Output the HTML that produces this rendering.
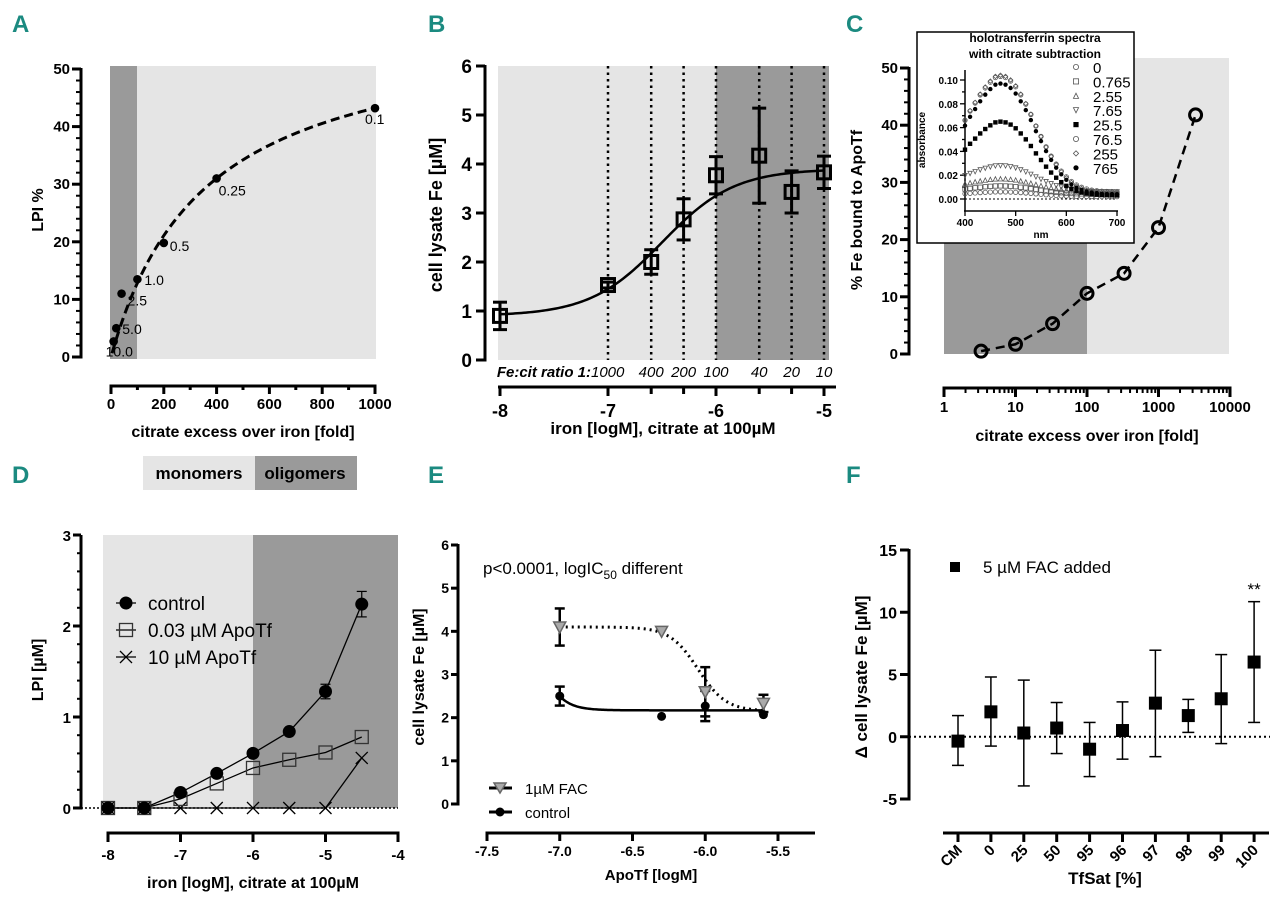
<!DOCTYPE html>
<html><head><meta charset="utf-8"><style>
html,body{margin:0;padding:0;background:#fff}
svg{display:block;font-family:"Liberation Sans",sans-serif}
</style></head><body>
<svg id="fig" width="1280" height="907" viewBox="0 0 1280 907" xmlns="http://www.w3.org/2000/svg"></svg>
<script>
// ---------- DATA ----------
// Panel A
const aCitrate=[10,20,40,100,200,400,1000];
const aLPI=[2.7,5,11,13.5,19.8,31,43.2];
const aLabels=["10.0","5.0","2.5","1.0","0.5","0.25","0.1"];
const aFit=[58.6,356]; // Vmax, K
const aXTicks=[0,200,400,600,800,1000];
const aYTicks=[0,10,20,30,40,50];
// Panel B
const bIron=[-8,-7,-6.6,-6.3,-6,-5.6,-5.3,-5];
const bFe=[0.9,1.53,2.0,2.87,3.77,4.17,3.43,3.83];
const bErr=[0.28,0.06,0.25,0.42,0.38,0.97,0.43,0.33];
const bRatioLabels=["1000","400","200","100","40","20","10"];
const bRatioIron=[-7,-6.6,-6.3,-6,-5.6,-5.3,-5];
const bFit=[0.9,3.9,-6.5,1.3]; // bottom, top, logEC50, hill
const bXTicks=[-8,-7,-6,-5];
const bYTicks=[0,1,2,3,4,5,6];
// Panel C
const cCitrate=[3.3,10,33,100,330,1000,3300];
const cBound=[0.5,1.7,5.3,10.6,14.1,22.1,41.8];
const cXTicks=[1,10,100,1000,10000];
const cYTicks=[0,10,20,30,40,50];
// Panel C inset
const insLegend=["0","0.765","2.55","7.65","25.5","76.5","255","765"];
const insPeak=[0.004,0.007,0.011,0.022,0.062,0.097,0.099,0.093];
const insBase=[0.002,0.004,0.006,0.006,0.003,0.006,0.005,0.004];
const insWl=[400,410,420,430,440,450,460,470,480,490,500,510,520,530,540,550,560,570,580,590,600,610,620,630,640,650,660,670,680,690,700];
const insShape=[0.62,0.70,0.77,0.84,0.90,0.95,0.99,1.0,0.99,0.96,0.91,0.84,0.76,0.67,0.57,0.48,0.39,0.31,0.24,0.18,0.13,0.09,0.06,0.04,0.025,0.015,0.01,0.005,0.003,0.002,0.0];
const insMarkers=["circle","square","tri","tridown","fsquare","circle","diamond","fcircle"];
const insXTicks=[400,500,600,700];
const insYTicks=[0,0.02,0.04,0.06,0.08,0.10];
// Panel D
const dIron=[-8,-7.5,-7,-6.5,-6,-5.5,-5,-4.5];
const dControl=[0,0,0.17,0.38,0.6,0.84,1.28,2.24];
const dControlErr=[0,0,0,0,0,0,0.08,0.14];
const dApo003=[0,0,0.1,0.27,0.44,0.53,0.61,0.78];
const dApo10=[0,0,0,0,0,0,0,0.55];
const dXTicks=[-8,-7,-6,-5,-4];
const dYTicks=[0,1,2,3];
// Panel E
const eApo=[-7,-6.3,-6,-5.6];
const eFAC=[4.1,4.0,2.6,2.33];
const eFACErr=[0.43,0,0.57,0.2];
const eCtrl=[2.5,2.03,2.27,2.07];
const eCtrlErr=[0.22,0,0.35,0];
const eFACFit=[4.1,2.15,-6.05,-4.5];
const eCtrlFit=[2.5,2.17,-7.0,2.2];
const eXTicks=[-7.5,-7.0,-6.5,-6.0,-5.5];
const eYTicks=[0,1,2,3,4,5,6];
// Panel F
const fCats=["CM","0","25","50","95","96","97","98","99","100"];
const fMean=[-0.35,2.0,0.3,0.7,-1.0,0.5,2.7,1.7,3.05,6.0];
const fLow=[-2.3,-0.75,-3.95,-1.35,-3.2,-1.8,-1.6,0.35,-0.55,1.15];
const fHigh=[1.7,4.8,4.55,2.75,1.15,2.8,6.95,3.0,6.6,10.85];
const fYTicks=[-5,0,5,10,15];

// ---------- HELPERS ----------
const NS="http://www.w3.org/2000/svg";
const svg=document.getElementById('fig');
function mk(tag,attrs,name,parent){
  const el=document.createElementNS(NS,tag);
  for(const k in attrs) el.setAttribute(k,attrs[k]);
  
  
  (parent||svg).appendChild(el);
  return el;
}
function txt(x,y,s,attrs,name,parent){
  const a=Object.assign({x:x,y:y},attrs||{});
  const t=mk('text',a,name,parent); t.textContent=s; return t;
}
function lin(d0,d1,r0,r1){return v=>r0+(v-d0)*(r1-r0)/(d1-d0);}
function line(x1,y1,x2,y2,attrs,name,g){return mk('line',Object.assign({x1,y1,x2,y2,stroke:'#000'},attrs||{}),name,g);}
function errbar(g,x,y1,y2,cap,sw,name){
  line(x,y1,x,y2,{'stroke-width':sw},name,g);
  line(x-cap/2,y1,x+cap/2,y1,{'stroke-width':sw},name+'-cap',g);
  line(x-cap/2,y2,x+cap/2,y2,{'stroke-width':sw},name+'-cap',g);
}
const teal='#1b8a80';
function letter(x,y,s){txt(x,y,s,{'font-size':24,'font-weight':'bold',fill:teal,'font-family':'"Liberation Sans Narrow","Liberation Sans",sans-serif'},'panel-label-'+s.toLowerCase());}
function ytitle(x,y,s,size,name){txt(0,0,s,{'font-size':size,'font-weight':'bold','text-anchor':'middle',transform:'translate('+x+','+y+') rotate(-90)'},name);}
letter(12,32,'A');letter(428,32,'B');letter(846,32,'C');
letter(12,483,'D');letter(428,483,'E');letter(846,483,'F');

// ---------- PANEL A ----------
(function(){
  const g=mk('g',{},'panel-a');
  const x=lin(0,1000,111,375), y=lin(0,50,357,69);
  mk('rect',{x:110,y:66,width:266,height:293,fill:'#e5e5e5'},'monomer-region',g);
  mk('rect',{x:110,y:66,width:27,height:293,fill:'#9a9a9a'},'oligomer-region',g);
  line(81,y(50)-1,81,y(0)+1.5,{'stroke-width':3},'y-axis',g);
  for(let v=0;v<=50;v+=2){const maj=v%10===0;line(maj?72:76,y(v),81,y(v),{'stroke-width':maj?3:2},'y-tick',g);}
  aYTicks.forEach(v=>txt(70,y(v)+5,String(v),{'font-size':15,'font-weight':'bold','text-anchor':'end'},'y-tick-label',g));
  line(109.5,386,376.5,386,{'stroke-width':3},'x-axis',g);
  for(let v=0;v<=1000;v+=100){const maj=v%200===0;line(x(v),386,x(v),maj?394:390,{'stroke-width':3},'x-tick',g);}
  aXTicks.forEach(v=>txt(x(v),409,String(v),{'font-size':15,'font-weight':'bold','text-anchor':'middle'},'x-tick-label',g));
  txt(243,437,'citrate excess over iron [fold]',{'font-size':16,'font-weight':'bold','text-anchor':'middle'},'x-axis-title',g);
  ytitle(43,210,'LPI %',16,'y-axis-title');
  let d='';
  for(let c=4;c<=1000;c+=(c<100?2:10)){const f=aFit[0]*c/(aFit[1]+c);d+=(d?'L':'M')+x(c)+','+y(f);}
  mk('path',{d:d,fill:'none',stroke:'#000','stroke-width':3,'stroke-dasharray':'9 5'},'fit-curve',g);
  const pts=aCitrate.map((c,i)=>[x(c),y(aLPI[i])]);
  const off=[[-8,15],[6,6],[6,12],[7,6],[6,8],[2,17],[-10,16]];
  pts.forEach((p,i)=>{
    mk('circle',{cx:p[0],cy:p[1],r:4.3,fill:'#000'},'data-point',g);
    txt(p[0]+off[i][0],p[1]+off[i][1],aLabels[i],{'font-size':14},'point-label',g);
  });
})();

// ---------- PANEL B ----------
(function(){
  const g=mk('g',{},'panel-b');
  const x=lin(-8,-5,500,824), y=lin(0,6,360,66);
  mk('rect',{x:498,y:66,width:331,height:294,fill:'#e5e5e5'},'monomer-region',g);
  mk('rect',{x:x(-6),y:66,width:829-x(-6),height:294,fill:'#9a9a9a'},'oligomer-region',g);
  bRatioIron.forEach(v=>line(x(v),66,x(v),360,{'stroke-width':2.5,'stroke-dasharray':'2.5 4'},'ratio-gridline',g));
  line(485,y(6)-1,485,y(0)+1.5,{'stroke-width':3},'y-axis',g);
  bYTicks.forEach(v=>{line(476,y(v),485,y(v),{'stroke-width':3},'y-tick',g);
    txt(472,y(v)+7,String(v),{'font-size':19,'font-weight':'bold','text-anchor':'end'},'y-tick-label',g);});
  ytitle(442,215,'cell lysate Fe [\u00b5M]',18,'y-axis-title');
  line(498,387,836,387,{'stroke-width':3},'x-axis',g);
  bXTicks.forEach(v=>{line(x(v),387,x(v),396,{'stroke-width':3},'x-tick',g);
    txt(x(v),417,String(v),{'font-size':18,'font-weight':'bold','text-anchor':'middle'},'x-tick-label',g);});
  bRatioIron.forEach(v=>{if(bXTicks.indexOf(v)<0)line(x(v),387,x(v),394,{'stroke-width':3},'x-minor-tick',g);});
  txt(591,377,'Fe:cit ratio 1:',{'font-size':15,'font-weight':'bold','font-style':'italic','text-anchor':'end'},'ratio-label-prefix',g);
  bRatioLabels.forEach((s,i)=>{const xx=x(bRatioIron[i]);const ax=i===0?'start':'middle';
    txt(i===0?591:xx,377,s,{'font-size':15,'font-style':'italic','text-anchor':ax},'ratio-label',g);});
  txt(663,434,'iron [logM], citrate at 100\u00b5M',{'font-size':17,'font-weight':'bold','text-anchor':'middle'},'x-axis-title',g);
  let d='';
  for(let v=-8;v<=-5.0001+0.02;v+=0.02){const f=bFit[0]+(bFit[1]-bFit[0])/(1+Math.pow(10,(bFit[2]-v)*bFit[3]));d+=(d?'L':'M')+x(v)+','+y(f);}
  mk('path',{d:d,fill:'none',stroke:'#000','stroke-width':2.5},'fit-curve',g);
  bIron.forEach((v,i)=>{
    errbar(g,x(v),y(bFe[i]+bErr[i]),y(bFe[i]-bErr[i]),14,3,'error-bar');
    mk('rect',{x:x(v)-6.5,y:y(bFe[i])-6.5,width:13,height:13,fill:'none',stroke:'#000','stroke-width':3},'data-point',g);
  });
})();

// ---------- PANEL C ----------
(function(){
  const g=mk('g',{},'panel-c');
  const x=v=>944+71.5*Math.log10(v), y=lin(0,50,354,68);
  mk('rect',{x:944,y:58,width:285,height:296,fill:'#e5e5e5'},'monomer-region',g);
  mk('rect',{x:944,y:58,width:x(100)-944,height:296,fill:'#9a9a9a'},'oligomer-region',g);
  line(909,y(50)-1,909,y(0)+1.5,{'stroke-width':3},'y-axis',g);
  for(let v=0;v<=50;v+=2){const maj=v%10===0;line(maj?900:904,y(v),909,y(v),{'stroke-width':maj?3:2},'y-tick',g);}
  cYTicks.forEach(v=>txt(898,y(v)+5,String(v),{'font-size':15,'font-weight':'bold','text-anchor':'end'},'y-tick-label',g));
  ytitle(862,210,'% Fe bound to ApoTf',16,'y-axis-title');
  line(942.5,388,1231.5,388,{'stroke-width':3},'x-axis',g);
  for(let dcd=1;dcd<=10000;dcd*=10){line(x(dcd),388,x(dcd),397,{'stroke-width':3},'x-tick',g);
    if(dcd<10000)for(let m=2;m<10;m++)line(x(dcd*m),388,x(dcd*m),393,{'stroke-width':2},'x-minor-tick',g);}
  cXTicks.forEach(v=>txt(x(v),412,String(v),{'font-size':15,'font-weight':'bold','text-anchor':'middle'},'x-tick-label',g));
  txt(1087,441,'citrate excess over iron [fold]',{'font-size':16,'font-weight':'bold','text-anchor':'middle'},'x-axis-title',g);
  const pts=cCitrate.map((c,i)=>[x(c),y(cBound[i])]);
  mk('polyline',{points:pts.map(p=>p.join(',')).join(' '),fill:'none',stroke:'#000','stroke-width':2.5,'stroke-dasharray':'9 6'},'data-line',g);
  pts.forEach(p=>mk('circle',{cx:p[0],cy:p[1],r:6,fill:'none',stroke:'#000','stroke-width':3},'data-point',g));

  const ig=mk('g',{},'inset-spectra',g);
  mk('rect',{x:917,y:32,width:217,height:211,fill:'#fff',stroke:'#000','stroke-width':1.5},'inset-frame',ig);
  txt(1035,42,'holotransferrin spectra',{'font-size':12,'font-weight':'bold','text-anchor':'middle'},'inset-title',ig);
  txt(1035,58,'with citrate subtraction',{'font-size':12,'font-weight':'bold','text-anchor':'middle'},'inset-title',ig);
  const xi=lin(400,700,965,1117), yi=lin(0,0.1,199,80);
  line(965,199,1117,199,{'stroke-width':1,'stroke-dasharray':'2 2'},'zero-line',ig);
  line(965,70,965,211,{'stroke-width':1.5},'inset-y-axis',ig);
  for(let v=0;v<=0.1001;v+=0.01){const maj=Math.round(v*100)%2===0;line(maj?960:962,yi(v),965,yi(v),{'stroke-width':1.3},'inset-y-tick',ig);}
  insYTicks.forEach(v=>txt(958,yi(v)+4,v.toFixed(2),{'font-size':10,'font-weight':'bold','text-anchor':'end'},'inset-y-tick-label',ig));
  txt(0,0,'absorbance',{'font-size':10,'font-weight':'bold','text-anchor':'middle',transform:'translate(925,140) rotate(-90)'},'inset-y-title',ig);
  line(964,211,1118,211,{'stroke-width':1.5},'inset-x-axis',ig);
  insXTicks.forEach(v=>{line(xi(v),211,xi(v),216,{'stroke-width':1.3},'inset-x-tick',ig);
    txt(xi(v),226,String(v),{'font-size':10,'font-weight':'bold','text-anchor':'middle'},'inset-x-tick-label',ig);});
  txt(1041,238,'nm',{'font-size':10,'font-weight':'bold','text-anchor':'middle'},'inset-x-title',ig);
  function marker(type,cx,cy,s,par,name){
    const filled=type[0]==='f';
    const st={fill:filled?'#000':'none',stroke:filled?'none':'#555','stroke-width':0.8};
    if(type==='circle'||type==='fcircle')return mk('circle',Object.assign({cx,cy,r:s},st),name,par);
    if(type==='square'||type==='fsquare')return mk('rect',Object.assign({x:cx-s,y:cy-s,width:2*s,height:2*s},st),name,par);
    if(type==='tri')return mk('polygon',Object.assign({points:[cx,cy-s,cx+s,cy+s,cx-s,cy+s].join(' ')},st),name,par);
    if(type==='tridown')return mk('polygon',Object.assign({points:[cx-s,cy-s,cx+s,cy-s,cx,cy+s].join(' ')},st),name,par);
    return mk('polygon',Object.assign({points:[cx,cy-s,cx+s,cy,cx,cy+s,cx-s,cy].join(' ')},st),name,par);
  }
  insPeak.forEach((pk,si)=>{
    insWl.forEach((w,wi)=>marker(insMarkers[si],xi(w),yi(insBase[si]+pk*insShape[wi]),2.2,ig,'spectrum-point'));
    marker(insMarkers[si],1076,67+si*14.4,2.6,ig,'inset-legend-marker');
    txt(1093,73+si*14.4,insLegend[si],{'font-size':15},'inset-legend-label',ig);
  });
})();

// ---------- MONOMER/OLIGOMER LEGEND ----------
mk('rect',{x:143,y:456,width:112,height:34,fill:'#e5e5e5'},'monomers-legend-box');
mk('rect',{x:255,y:456,width:102,height:34,fill:'#9a9a9a'},'oligomers-legend-box');
txt(199,479,'monomers',{'font-size':17,'font-weight':'bold','text-anchor':'middle'},'monomers-legend-label');
txt(305,479,'oligomers',{'font-size':17,'font-weight':'bold','text-anchor':'middle'},'oligomers-legend-label');

// ---------- PANEL D ----------
(function(){
  const g=mk('g',{},'panel-d');
  const x=lin(-8,-4,108,398), y=lin(0,3,808,535);
  mk('rect',{x:103,y:535,width:295,height:273,fill:'#e5e5e5'},'monomer-region',g);
  mk('rect',{x:x(-6),y:535,width:398-x(-6),height:273,fill:'#9a9a9a'},'oligomer-region',g);
  line(81,535,81,809.5,{'stroke-width':3},'y-axis',g);
  for(let i=0;i<=15;i++){const v=i*0.2;const maj=i%5===0;line(maj?73:77,y(v),81,y(v),{'stroke-width':maj?3:2},'y-tick',g);}
  dYTicks.forEach(v=>txt(71,y(v)+6,String(v),{'font-size':15,'font-weight':'bold','text-anchor':'end'},'y-tick-label',g));
  ytitle(43,670,'LPI [\u00b5M]',16,'y-axis-title');
  line(81,808,398,808,{'stroke-width':1.5,'stroke-dasharray':'2 2'},'zero-line',g);
  line(106.5,833,399.5,833,{'stroke-width':3},'x-axis',g);
  dXTicks.forEach(v=>{line(x(v),833,x(v),842,{'stroke-width':3},'x-tick',g);
    txt(x(v),860,String(v),{'font-size':15,'font-weight':'bold','text-anchor':'middle'},'x-tick-label',g);});
  txt(253,888,'iron [logM], citrate at 100\u00b5M',{'font-size':16,'font-weight':'bold','text-anchor':'middle'},'x-axis-title',g);
  function pl(vals,name){mk('polyline',{points:dIron.map((v,i)=>x(v)+','+y(vals[i])).join(' '),fill:'none',stroke:'#000','stroke-width':1.3},name,g);}
  pl(dApo10,'apotf-10-line');pl(dApo003,'apotf-003-line');pl(dControl,'control-line');
  dIron.forEach((v,i)=>{const cx=x(v),cy=y(dApo10[i]);
    line(cx-6,cy-6,cx+6,cy+6,{'stroke-width':1.3},'apotf-10-point',g);line(cx-6,cy+6,cx+6,cy-6,{'stroke-width':1.3},'apotf-10-point',g);});
  dIron.forEach((v,i)=>mk('rect',{x:x(v)-6.5,y:y(dApo003[i])-6.5,width:13,height:13,fill:'none',stroke:'#333','stroke-width':1.3},'apotf-003-point',g));
  dIron.forEach((v,i)=>{if(dControlErr[i]>0)errbar(g,x(v),y(dControl[i]+dControlErr[i]),y(dControl[i]-dControlErr[i]),10,1.2,'control-error-bar');
    mk('circle',{cx:x(v),cy:y(dControl[i]),r:6.5,fill:'#000'},'control-point',g);});
  const lg=[['control','c'],['0.03 \u00b5M ApoTf','s'],['10 \u00b5M ApoTf','x']];
  lg.forEach((e,i)=>{const ly=603+i*27;
    line(116,ly,136,ly,{'stroke-width':1.3},'legend-line',g);
    if(e[1]==='c')mk('circle',{cx:126,cy:ly,r:6.5,fill:'#000'},'legend-marker-control',g);
    if(e[1]==='s')mk('rect',{x:119.5,y:ly-6.5,width:13,height:13,fill:'none',stroke:'#333','stroke-width':1.3},'legend-marker-apotf-003',g);
    if(e[1]==='x'){line(120,ly-6,132,ly+6,{'stroke-width':1.3},'legend-marker-apotf-10',g);line(120,ly+6,132,ly-6,{'stroke-width':1.3},'legend-marker-apotf-10',g);}
    txt(148,ly+7,e[0],{'font-size':19},'legend-label',g);});
})();

// ---------- PANEL E ----------
(function(){
  const g=mk('g',{},'panel-e');
  const x=lin(-7.5,-5.5,487,778), y=lin(0,6,804,545);
  line(458,544,458,805.5,{'stroke-width':3},'y-axis',g);
  eYTicks.forEach(v=>{line(451,y(v),458,y(v),{'stroke-width':3},'y-tick',g);
    txt(449,y(v)+5,String(v),{'font-size':14,'font-weight':'bold','text-anchor':'end'},'y-tick-label',g);});
  ytitle(424,677,'cell lysate Fe [\u00b5M]',16,'y-axis-title');
  line(485.5,833,815,833,{'stroke-width':3},'x-axis',g);
  eXTicks.forEach(v=>{line(x(v),833,x(v),841,{'stroke-width':3},'x-tick',g);
    txt(x(v),856,v.toFixed(1),{'font-size':14,'font-weight':'bold','text-anchor':'middle'},'x-tick-label',g);});
  txt(651,880,'ApoTf [logM]',{'font-size':15,'font-weight':'bold','text-anchor':'middle'},'x-axis-title',g);
  const ann=txt(483,574,'p<0.0001, logIC',{'font-size':17},'significance-annotation',g);
  const sub=mk('tspan',{'font-size':12,dy:5},'subscript',ann);sub.textContent='50';
  const rest=mk('tspan',{dy:-5},'annotation-rest',ann);rest.textContent=' different';
  let d1='',d2='';
  for(let v=-7;v<=-5.6+0.001;v+=0.01){
    const f=eFACFit[1]+(eFACFit[0]-eFACFit[1])/(1+Math.pow(10,(v-eFACFit[2])*(-eFACFit[3])));
    const c=eCtrlFit[1]+(eCtrlFit[0]-eCtrlFit[1])*Math.exp(-(v-eCtrlFit[2])*eCtrlFit[3]*10/2);
    d1+=(d1?'L':'M')+x(v)+','+y(f); d2+=(d2?'L':'M')+x(v)+','+y(c);}
  mk('path',{d:d1,fill:'none',stroke:'#000','stroke-width':3,'stroke-dasharray':'2 4'},'fac-fit-curve',g);
  mk('path',{d:d2,fill:'none',stroke:'#000','stroke-width':2.5},'control-fit-curve',g);
  eApo.forEach((v,i)=>{
    if(eFACErr[i]>0)errbar(g,x(v),y(eFAC[i]+eFACErr[i]),y(eFAC[i]-eFACErr[i]),10,2.5,'fac-error-bar');
    if(eCtrlErr[i]>0)errbar(g,x(v),y(eCtrl[i]+eCtrlErr[i]),y(eCtrl[i]-eCtrlErr[i]),10,2.5,'control-error-bar');
    const cx=x(v),cy=y(eFAC[i]);
    mk('polygon',{points:[cx-6,cy-5,cx+6,cy-5,cx,cy+6].join(' '),fill:'#aaa',stroke:'#666','stroke-width':1.5},'fac-point',g);
    mk('circle',{cx:x(v),cy:y(eCtrl[i]),r:4.5,fill:'#000'},'control-point',g);});
  line(489,788,512,788,{'stroke-width':3},'legend-line-fac',g);
  mk('polygon',{points:'494,783 506,783 500,793',fill:'#aaa',stroke:'#666','stroke-width':1.5},'legend-marker-fac',g);
  txt(525,794,'1\u00b5M FAC',{'font-size':15},'legend-label-fac',g);
  line(489,812,512,812,{'stroke-width':3},'legend-line-control',g);
  mk('circle',{cx:500,cy:812,r:4.5,fill:'#000'},'legend-marker-control',g);
  txt(525,818,'control',{'font-size':15},'legend-label-control',g);
})();

// ---------- PANEL F ----------
(function(){
  const g=mk('g',{},'panel-f');
  const x=i=>958+i*32.9, y=lin(-5,15,799,550);
  line(909,549,909,800.5,{'stroke-width':3},'y-axis',g);
  fYTicks.forEach(v=>{line(900,y(v),909,y(v),{'stroke-width':3},'y-tick',g);
    txt(897,y(v)+6,String(v),{'font-size':16,'font-weight':'bold','text-anchor':'end'},'y-tick-label',g);});
  ytitle(867,677,'\u0394 cell lysate Fe [\u00b5M]',17,'y-axis-title');
  line(909,y(0),1270,y(0),{'stroke-width':2,'stroke-dasharray':'2 3'},'zero-line',g);
  line(943,833,1269,833,{'stroke-width':3},'x-axis',g);
  fCats.forEach((c,i)=>{line(x(i),833,x(i),842,{'stroke-width':3},'x-tick',g);
    txt(x(i)+5,851,c,{'font-size':15,'font-weight':'bold','text-anchor':'end',transform:'rotate(-45 '+(x(i)+5)+' 851)'},'x-tick-label',g);});
  txt(1105,884,'TfSat [%]',{'font-size':17,'font-weight':'bold','text-anchor':'middle'},'x-axis-title',g);
  fCats.forEach((c,i)=>{errbar(g,x(i),y(fHigh[i]),y(fLow[i]),12,1.5,'error-bar');
    mk('rect',{x:x(i)-6.5,y:y(fMean[i])-6.5,width:13,height:13,fill:'#000'},'data-point',g);});
  txt(x(9),595,'**',{'font-size':17,'text-anchor':'middle'},'significance-marker',g);
  mk('rect',{x:950,y:562,width:10,height:10,fill:'#000'},'legend-marker',g);
  txt(983,573,'5 \u00b5M FAC added',{'font-size':17},'legend-label',g);
})();
</script>
</body></html>
